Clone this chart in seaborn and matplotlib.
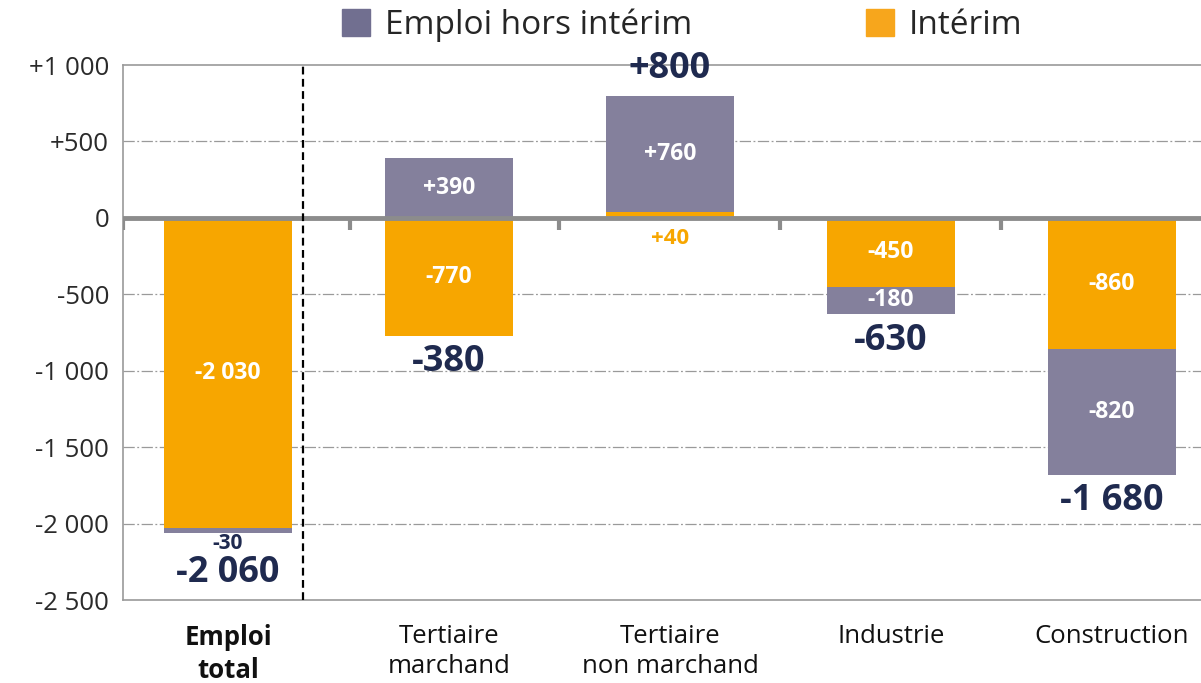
import matplotlib
matplotlib.use("Agg")
import matplotlib.pyplot as plt
import seaborn as sns
import pandas as pd

# Données (milliers d'emplois)
secteurs = ["Emploi\ntotal", "Tertiaire\nmarchand", "Tertiaire\nnon marchand",
            "Industrie", "Construction"]
interim = [-2030, -770, 40, -450, -860]
hors_interim = [-30, 390, 760, -180, -820]
total = [-2060, -380, 800, -630, -1680]

y_ticks = [1000, 500, 0, -500, -1000, -1500, -2000, -2500]

C_HORS = "#84809c"
C_INT = "#f7a600"
C_TXT = "#1f2a4f"
C_GRIS = "#8c8c8c"


def fmt(v):
    s = f"{abs(v):,}".replace(",", " ")
    if v > 0:
        return "+" + s
    if v < 0:
        return "-" + s
    return "0"


sns.set_theme(style="white")
plt.rcParams["font.family"] = ["Open Sans", "DejaVu Sans"]

df = pd.DataFrame({"secteur": secteurs, "interim": interim, "hors": hors_interim})

# empilement : intérim partant de 0, hors intérim empilé dans le même sens
bas_hors = [i if (i > 0) == (h > 0) else 0 for i, h in zip(interim, hors_interim)]

fig = plt.figure(figsize=(12.01, 6.83), dpi=100)
ax = fig.add_axes([0.1024, 0.1215, 0.8976, 0.7833])

sns.barplot(data=df, x="secteur", y="interim", order=secteurs, color=C_INT,
            saturation=1, width=0.58, ax=ax, zorder=3, linewidth=0)
sns.barplot(data=df, x="secteur", y="hors", order=secteurs, color=C_HORS,
            saturation=1, width=0.58, ax=ax, bottom=bas_hors, zorder=3, linewidth=0)

ax.set_ylim(-2500, 1000)
ax.set_xlim(-0.475, 4.403)
ax.set_yticks(y_ticks)
ax.set_yticklabels([fmt(v) for v in y_ticks], fontsize=18.5, color="#2a2a2a")
ax.set_xlabel("")
ax.set_ylabel("")
ax.set_xticks(range(len(secteurs)))
ax.set_xticklabels(secteurs, fontsize=18.5, color="#111111", linespacing=1.3)
ax.get_xticklabels()[0].set_fontweight("bold")
ax.tick_params(axis="x", length=0, pad=17)
ax.tick_params(axis="y", length=7, width=1.2, color=C_GRIS, direction="out", pad=3)

for v in y_ticks[1:-1]:
    if v != 0:
        ax.axhline(v, color="#9a9a9a", lw=0.9, ls=(0, (9, 2, 1.5, 2)), zorder=1)

for side in ["top", "bottom", "left"]:
    ax.spines[side].set_color("#9a9a9a")
    ax.spines[side].set_linewidth(1.2)
ax.spines["right"].set_visible(False)

# ligne du zéro avec petites graduations
ax.axhline(0, color=C_GRIS, lw=3.5, zorder=4)
for xb in [-0.475, 0.55, 1.5, 2.5, 3.5]:
    ax.plot([xb, xb], [0, -80], color=C_GRIS, lw=3, zorder=4, solid_capstyle="butt")

# séparation emploi total
ax.axvline(0.34, color="black", lw=1.6, ls=(0, (3.5, 2)), zorder=5)

# étiquettes dans les barres
for k in range(len(secteurs)):
    i, h = interim[k], hors_interim[k]
    if abs(i) >= 100:
        ax.text(k, i / 2, fmt(i), ha="center", va="center", color="white",
                fontsize=16.5, fontweight="bold", zorder=6)
    else:
        ax.annotate(fmt(i), (k, 0), xytext=(0, -15), textcoords="offset points",
                    ha="center", va="center", color=C_INT, fontsize=16,
                    fontweight="bold", zorder=6)
    if abs(h) >= 100:
        ax.text(k, bas_hors[k] + h / 2, fmt(h), ha="center", va="center",
                color="white", fontsize=16.5, fontweight="bold", zorder=6)
    else:
        ax.annotate(fmt(h), (k, bas_hors[k] + h), xytext=(0, -8),
                    textcoords="offset points", ha="center", va="center",
                    color=C_TXT, fontsize=15, fontweight="bold", zorder=6)

# totaux
for k, t in enumerate(total):
    bout = min(interim[k], bas_hors[k] + hors_interim[k]) if t < 0 else \
        max(interim[k], bas_hors[k] + hors_interim[k])
    dy = 19 if t > 0 else -19
    if abs(hors_interim[k]) < 100 and t < 0:
        dy = -29
    ax.annotate(fmt(t), (k, bout), xytext=(0, dy), textcoords="offset points",
                ha="center", va="center", color=C_TXT, fontsize=26,
                fontweight="bold", zorder=6)

# légende
handles = [plt.Rectangle((0, 0), 1, 1, color="#716f90"),
           plt.Rectangle((0, 0), 1, 1, color="#f7a61c")]
fig.legend(handles, ["Emploi hors intérim", "Intérim"], loc="center",
           bbox_to_anchor=(0.568, 0.963), ncol=2, frameon=False, fontsize=24,
           handlelength=0.85, handleheight=0.85, handletextpad=0.45,
           columnspacing=5.2, borderpad=0)

fig.savefig("out.png", dpi=100)
